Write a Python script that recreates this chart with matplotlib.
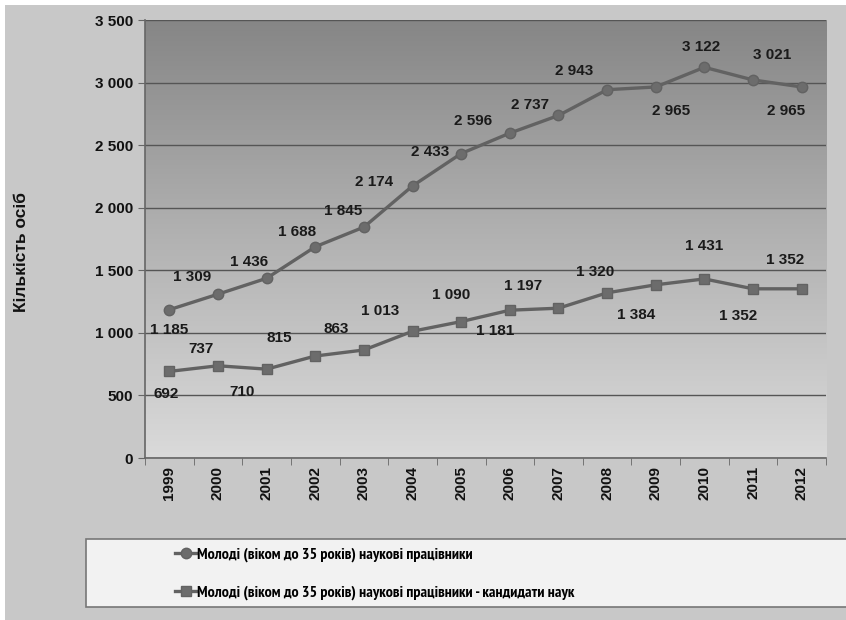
import numpy as np
import matplotlib
matplotlib.use("Agg")
from matplotlib import pyplot as plt
from matplotlib.patches import Rectangle
from matplotlib import font_manager

plt.rcParams['font.family'] = ['Liberation Sans', 'DejaVu Sans']
plt.rcParams['font.weight'] = 'bold'

years = ["1999", "2000", "2001", "2002", "2003", "2004", "2005",
         "2006", "2007", "2008", "2009", "2010", "2011", "2012"]
young = [1185, 1309, 1436, 1688, 1845, 2174, 2433, 2596, 2737, 2943, 2965, 3122, 3021, 2965]
young_phd = [692, 737, 710, 815, 863, 1013, 1090, 1181, 1197, 1320, 1384, 1431, 1352, 1352]
label_young = "Молоді (віком до 35 років) наукові працівники"
label_phd = "Молоді (віком до 35 років) наукові працівники - кандидати наук"
y_title = "Кількість осіб"

# label offsets in pixels (dx, dy up)
off_young = [(0, -20), (-26, 17), (-18, 16), (-18, 15), (-21, 16), (-38, 4), (-31, 2),
             (-37, 12), (-28, 10), (-33, 19), (15, -24), (-3, 20), (19, 25), (-16, -24)]
off_phd = [(-3, -23), (-17, 17), (-25, -23), (-36, 18), (-28, 21), (-32, 20), (-10, 27),
           (-15, -21), (-35, 22), (-12, 21), (-20, -30), (0, 33), (-15, -27), (-17, 29)]

def fmt(v):
    return "{:,}".format(v).replace(",", " ")

names = {f.name for f in font_manager.fontManager.ttflist}
narrow = 'Liberation Sans'
for cand in ['Arial Narrow', 'Liberation Sans Narrow', 'PT Sans Narrow', 'Archivo Narrow', 'Roboto Condensed']:
    if cand in names:
        narrow = cand
        break

fig = plt.figure(figsize=(8.46, 6.2), dpi=100, facecolor="white")
# grey page background
fig.patches.append(Rectangle((5/846, 0), 1, 1 - 5/620, transform=fig.transFigure,
                             facecolor="#c8c8c8", edgecolor="none", zorder=-10))
# legend box
fig.patches.append(Rectangle((86/846, 1 - 607/620), 1, 68/620, transform=fig.transFigure,
                             facecolor="#f2f2f2", edgecolor="#777777", lw=1.2, zorder=-5))

ax = fig.add_axes([145/846, 1 - 458/620, 681/846, 438/620])
x = np.arange(len(years))
ax.set_xlim(-0.5, len(years) - 0.5)
ax.set_ylim(0, 3500)

# gradient plot area
grad = np.linspace(0, 1, 256).reshape(-1, 1)
ax.imshow(grad, extent=[0, 1, 0, 1], transform=ax.transAxes, aspect="auto",
          cmap=matplotlib.colors.LinearSegmentedColormap.from_list("g", ["#dadada", "#b2b2b2", "#868686"]),
          origin="lower", zorder=0)

ax.set_yticks(np.arange(0, 3501, 500))
ax.set_yticklabels([fmt(v) for v in range(0, 3501, 500)])
ax.grid(axis="y", color="#555555", lw=1.0, zorder=1)
ax.set_xticks(x)
ax.set_xticklabels(years, rotation=90)
ax.set_xticks(np.arange(-0.5, len(years), 1), minor=True)
ax.tick_params(axis="x", which="major", length=0, pad=6, labelsize=11, colors="#111111")
ax.tick_params(axis="x", which="minor", length=5, color="#666666")
ax.tick_params(axis="y", length=5, color="#666666", labelsize=11, labelcolor="#111111")
for s in ["top", "right"]:
    ax.spines[s].set_visible(False)
for s in ["left", "bottom"]:
    ax.spines[s].set_color("#666666")
    ax.spines[s].set_linewidth(1.2)

ax.plot(x, young, color="#626262", lw=2.4, marker="o", ms=7.5, mfc="#6c6c6c", mec="#626262",
        label=label_young, zorder=3)
ax.plot(x, young_phd, color="#626262", lw=2.4, marker="s", ms=7.5, mfc="#6c6c6c", mec="#626262",
        label=label_phd, zorder=3)

for xi, v, (dx, dy) in zip(x, young, off_young):
    ax.annotate(fmt(v), (xi, v), xytext=(dx, dy), textcoords="offset pixels",
                ha="center", va="center", fontsize=11, color="#1a1a1a", zorder=4)
for xi, v, (dx, dy) in zip(x, young_phd, off_phd):
    ax.annotate(fmt(v), (xi, v), xytext=(dx, dy), textcoords="offset pixels",
                ha="center", va="center", fontsize=11, color="#1a1a1a", zorder=4)

fig.text(22/846, 1 - 252/620, y_title, rotation=90, ha="center", va="center",
         fontsize=12.5, color="#111111")

h, l = ax.get_legend_handles_labels()
fig.legend(h, l, loc="center left", bbox_to_anchor=(161/846, 1 - 574/620), frameon=False,
           prop={'family': [narrow, 'DejaVu Sans'], 'weight': 'bold', 'size': 11.5},
           handlelength=1.3, handletextpad=0.05, labelspacing=1.45)

fig.savefig("out.png", dpi=100, facecolor=fig.get_facecolor())
